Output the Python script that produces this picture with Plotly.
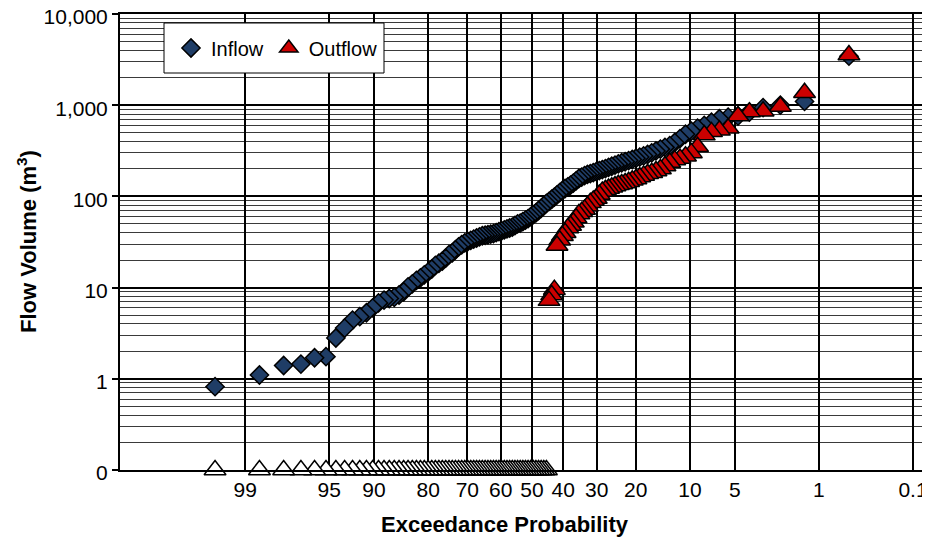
import plotly.graph_objects as go
from statistics import NormalDist

# ---------------- data ----------------
# Inflow event volumes (m3), sorted from largest to smallest
inflow = [3450, 1100, 1000, 940, 840, 760, 740, 710, 650, 600,
          560, 520, 480, 430, 390, 360, 345, 330, 315, 300,
          288, 278, 270, 262, 254, 247, 240, 234, 227, 220,
          214, 208, 202, 197, 192, 187, 182, 178, 174, 169,
          163, 157, 148, 140, 133, 127, 122, 116, 110, 104,
          98, 93, 88, 84, 79, 74, 70, 66, 63, 60,
          57, 55, 53, 51, 50, 48, 46, 45, 44, 43,
          42, 41, 40, 39, 38.5, 38, 37.5, 37, 36, 35,
          34, 33, 32, 31, 29.5, 28, 26, 24, 23, 21,
          19.5, 18.5, 17.5, 16, 14.8, 13.8, 12.8, 12, 11, 10.2,
          9, 8.3, 7.8, 7.6, 7.3, 6.8, 6.0, 5.3, 4.8, 4.4,
          3.6, 2.8, 1.75, 1.7, 1.45, 1.4, 1.1, 0.82]

# Outflow event volumes (m3), sorted from largest to smallest (0 = no outflow)
outflow = [3550, 1370, 970, 860, 840, 760, 560, 530, 510, 470,
           350, 300, 275, 260, 250, 235, 215, 200, 190, 182,
           177, 170, 163, 155, 150, 145, 140, 137, 134, 130,
           126, 122, 118, 113, 105, 95, 90, 85, 78, 72,
           68, 64, 58, 52, 48, 45, 40, 37, 33, 29,
           9.5, 8.3, 7.2,
           0, 0, 0, 0, 0, 0, 0, 0, 0, 0,
           0, 0, 0, 0, 0, 0, 0, 0, 0, 0,
           0, 0, 0, 0, 0, 0, 0, 0, 0, 0,
           0, 0, 0, 0, 0, 0, 0, 0, 0, 0,
           0, 0, 0, 0, 0, 0, 0, 0, 0, 0,
           0, 0, 0, 0, 0, 0, 0, 0, 0, 0,
           0, 0, 0, 0, 0]

# Exceedance-probability axis ticks (%)
prob_ticks = [99, 95, 90, 80, 70, 60, 50, 40, 30, 20, 10, 5, 1, 0.1]
prob_labels = ["99", "95", "90", "80", "70", "60", "50", "40", "30", "20", "10", "5", "1", "0.1"]

# Flow-volume axis ticks (the floor 0.1 carries the zero values)
vol_ticks = [0.1, 1, 10, 100, 1000, 10000]
vol_labels = ["0", "1", "10", "100", "1,000", "10,000"]
ZERO_LEVEL = 0.1

# ---------------- probability-scale transform ----------------
nd = NormalDist()


def prob_to_z(p_exceed):
    """normal-probability scale: exceedance probability (fraction) -> axis coordinate"""
    return nd.inv_cdf(1 - p_exceed)


def plotting_positions(n):
    # Cunnane plotting position for ranks 1..n (largest first)
    return [(j - 0.4) / (n + 0.2) for j in range(1, n + 1)]


pin = plotting_positions(len(inflow))
pout = plotting_positions(len(outflow))
x_in = [prob_to_z(p) for p in pin]

x_out_pos = [prob_to_z(p) for p, v in zip(pout, outflow) if v > 0]
y_out_pos = [v for v in outflow if v > 0]
x_out_zero = [prob_to_z(p) for p, v in zip(pout, outflow) if v == 0]
y_out_zero = [ZERO_LEVEL for v in outflow if v == 0]

x_tickvals = [prob_to_z(p / 100) for p in prob_ticks]

BLUE = "#1F3D66"
RED = "#CC0000"
FONT = "Liberation Sans, Arial, sans-serif"

fig = go.Figure()
fig.add_trace(go.Scatter(
    x=x_in, y=inflow, mode="markers", name="Inflow",
    marker=dict(symbol="diamond", size=14, color=BLUE,
                line=dict(color="black", width=1.5)),
))
fig.add_trace(go.Scatter(
    x=x_out_zero, y=y_out_zero, mode="markers", name="Outflow (zero)",
    showlegend=False, cliponaxis=False,
    marker=dict(symbol="triangle-up", size=19, color="white",
                line=dict(color="black", width=1.5)),
))
fig.add_trace(go.Scatter(
    x=x_out_pos, y=y_out_pos, mode="markers", name="Outflow",
    marker=dict(symbol="triangle-up", size=19, color=RED,
                line=dict(color="black", width=1.5)),
))

# The page body has an 8px margin: the figure starts at page (8, 8).
OFF = 8
FIG_W, FIG_H = 930 - OFF, 543 - OFF
# plot area in page px: left 120, right 930, top 14, bottom 470
PL, PR, PT, PB = 120, 930, 14, 470
L, R, T, B = PL - OFF, PR - OFF, PT - OFF, PB - OFF
W, H = R - L, B - T


def px_x(page_x):
    return (page_x - OFF - L) / W


def px_y(page_y):
    return (B - (page_y - OFF)) / H


fig.update_layout(
    width=FIG_W, height=FIG_H,
    margin=dict(l=L, r=FIG_W - R, t=T, b=FIG_H - B, pad=0, autoexpand=False),
    paper_bgcolor="white", plot_bgcolor="white",
    font=dict(family=FONT, size=21, color="black"),
    showlegend=True,
    legend=dict(orientation="h", x=px_x(171), y=px_y(48),
                xanchor="left", yanchor="middle",
                bgcolor="rgba(0,0,0,0)", borderwidth=0,
                font=dict(family=FONT, size=20, color="black")),
    xaxis=dict(range=[(PL - 532) / 123.3, (PR - 532) / 123.3],
               tickmode="array", tickvals=x_tickvals, ticktext=prob_labels,
               showgrid=True, gridcolor="black", gridwidth=2,
               zeroline=False, showline=True, mirror=True,
               linecolor="black", linewidth=2,
               ticks="", tickfont=dict(size=21), automargin=False),
    yaxis=dict(type="log", range=[-1, 4],
               tickmode="array", tickvals=vol_ticks, ticktext=vol_labels,
               showgrid=True, gridcolor="black", gridwidth=2,
               minor=dict(dtick="D1", showgrid=True, gridcolor="#3a3a3a",
                          gridwidth=1, ticks=""),
               zeroline=False, showline=True, linecolor="black", linewidth=2,
               ticks="outside", ticklen=6, tickcolor="black", tickwidth=1.5,
               tickfont=dict(size=21), ticklabeloverflow="allow",
               ticklabelshift=3, automargin=False),
    shapes=[dict(type="rect", xref="paper", yref="paper",
                 x0=px_x(164), x1=px_x(384), y0=px_y(73), y1=px_y(23),
                 line=dict(color="black", width=1), fillcolor="white",
                 layer="above")],
    annotations=[
        dict(text="<b>Flow Volume (m<sup>3</sup>)</b>", textangle=-90,
             xref="paper", yref="paper", x=px_x(27), y=0.5,
             xanchor="center", yanchor="middle", showarrow=False,
             font=dict(family=FONT, size=22, color="black")),
        dict(text="<b>Exceedance Probability</b>",
             xref="paper", yref="paper", x=px_x(505), y=px_y(524),
             xanchor="center", yanchor="middle", showarrow=False,
             font=dict(family=FONT, size=22, color="black")),
    ],
)

fig.write_html("out.html")
